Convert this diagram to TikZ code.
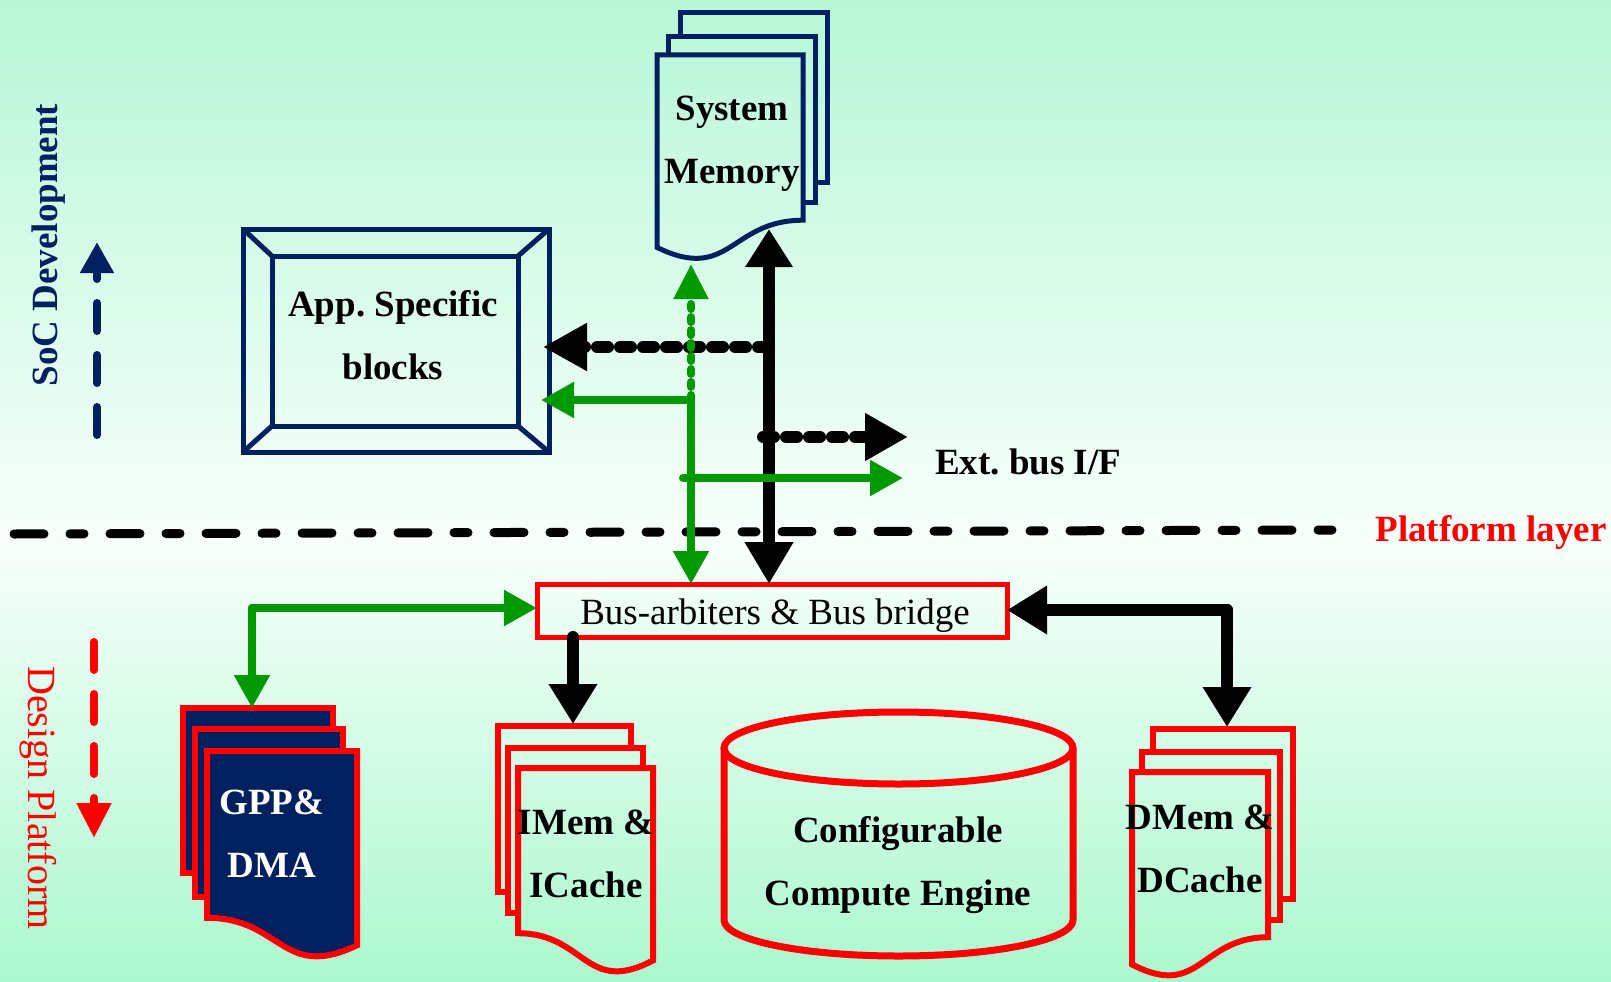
\documentclass[tikz,border=0pt]{standalone}
\usepackage{fontspec}
\setmainfont{Liberation Serif}
\usetikzlibrary{arrows.meta,calc}

\definecolor{navy}{HTML}{002060}
\definecolor{grn}{HTML}{009900}
\definecolor{mintT}{HTML}{B7F7D7}
\definecolor{mintB}{HTML}{ABF8CF}
\definecolor{paleW}{HTML}{F8FFFB}

% Document sheet with a wavy bottom edge: x0, y0, width, height, style
% (wave dips near the left, right end higher)
\newcommand\docR[5]{%
  \draw[#5] (#1,#2) -- ({#1+#3},#2) -- ({#1+#3},{#2+0.802*#4})
    .. controls ({#1+0.5*#3},{#2+0.802*#4}) and ({#1+0.5*#3},{#2+1.107*#4})
    .. (#1,{#2+0.934*#4}) -- cycle;}
% Mirrored version (wave dips near the right)
\newcommand\docL[5]{%
  \draw[#5] (#1,#2) -- ({#1+#3},#2) -- ({#1+#3},{#2+0.934*#4})
    .. controls ({#1+0.5*#3},{#2+1.107*#4}) and ({#1+0.5*#3},{#2+0.802*#4})
    .. (#1,{#2+0.802*#4}) -- cycle;}

\tikzset{
  lbl/.style={font=\fontsize{37}{63}\selectfont\bfseries\frenchspacing, align=center, inner sep=0pt},
  navysheet/.style={draw=navy, line width=5pt},
  redsheet/.style={draw=red, line width=6pt},
  blkbus/.style={black, line width=12pt, line cap=round},
  blkdash/.style={black, line width=12pt, line cap=round, dash pattern=on 11pt off 12pt},
  grnbus/.style={grn, line width=8pt, line cap=round},
  blktip/.style={-{Triangle[length=40pt,width=46pt]}},
  grntip/.style={-{Triangle[length=33pt,width=34pt]}},
}

\begin{document}
\begin{tikzpicture}[x=1pt,y=-1pt]
\useasboundingbox (0,0) rectangle (1611,982);

% background
\shade[top color=mintT, bottom color=paleW] (0,0) rectangle (1611,540);
\shade[top color=paleW, bottom color=mintB] (0,540) rectangle (1611,982);

% ---- System Memory stack
\draw[navysheet] (680,37) -- (680,13) -- (827,13) -- (827,182) -- (815,182);
\draw[navysheet] (668,55) -- (668,37) -- (815,37) -- (815,202) -- (803,202);
\docR{657}{55}{146}{206}{navysheet}

% ---- GPP & DMA stack
\filldraw[redsheet, fill=navy] (183,708) rectangle (333,873);
\filldraw[redsheet, fill=navy] (195,729) rectangle (343,897);
\docL{207}{751}{150}{208}{redsheet, fill=navy}

% ---- IMem & ICache stack
\draw[redsheet] (631,748) -- (631,726) -- (498,726) -- (498,892) -- (508,892);
\draw[redsheet] (643,768) -- (643,748) -- (508,748) -- (508,913) -- (518,913);
\docL{518}{768}{135}{206}{redsheet}

% ---- DMem & DCache stack
\draw[redsheet] (1153,752) -- (1153,729) -- (1293,729) -- (1293,899) -- (1280,899);
\draw[redsheet] (1142,772) -- (1142,752) -- (1280,752) -- (1280,920) -- (1268,920);
\docR{1132}{772}{136}{206}{redsheet}

% ---- compute engine cylinder
\draw[red, line width=7pt] (898.5,748) ellipse [x radius=174.5, y radius=36];
\draw[red, line width=7pt] (724,748) -- (724,920)
  arc[start angle=180, end angle=0, x radius=174.5, y radius=36] -- (1073,748);

% ---- application specific blocks (bevelled frame)
\node[draw=navy, line width=5pt, minimum width=306pt, minimum height=223pt,
      inner sep=0pt, outer sep=0pt] (app) at (396,340.5) {};
\draw[navy, line width=5pt]
  ($(app.north west)+(29,27)$) coordinate (ai1) rectangle ($(app.south east)+(-31,-26)$) coordinate (ai2);
\draw[navy, line width=5pt] (app.north west) -- (ai1);
\draw[navy, line width=5pt] (app.south east) -- (ai2);
\draw[navy, line width=5pt] (app.north east) -- (ai1 -| ai2);
\draw[navy, line width=5pt] (app.south west) -- (ai1 |- ai2);
\node[lbl] (apptxt) at (393,335) {App. Specific\\blocks};

% ---- bus
\node[draw=red, line width=5pt, minimum width=470pt, minimum height=53pt,
      inner sep=0pt, outer sep=0pt] (bus) at (772,610.5) {};
\node[font=\fontsize{37}{44}\selectfont, inner sep=0pt] (bustxt) at (775,616) {Bus-arbiters \& Bus bridge};

% ---- labels
\node[lbl] (smem) at (732,144) {System\\Memory};
\node[lbl, text=white] (gpp) at (272,834) {GPP\&\\DMA};
\node[lbl] (imem) at (586,854) {IMem \&\\ICache};
\node[lbl] (dmem) at (1200,849) {DMem \&\\DCache};
\node[lbl] (cce) at (898,865) {Configurable\\Compute Engine};
\node[lbl, anchor=west] (ext) at (935,462) {Ext. bus I/F};
\node[lbl, text=red] (plat) at (1491,532) {Platform layer};
\node[lbl, text=navy, rotate=90] (soc) at (49,245) {SoC Development};
\node[font=\fontsize{40}{48}\selectfont, text=red, rotate=-90, inner sep=0pt] (dp) at (38,798) {Design Platform};

% ---- connection points
\coordinate (smb) at (769,229);
\coordinate (smg) at (691,264);
\coordinate (gj) at (691,400);
\coordinate (jb1) at (769,347);
\coordinate (jb2) at (763,437);
\coordinate (extb) at (908,437);
\coordinate (ge) at (683,478);
\coordinate (extg) at (903,478);
\coordinate (gp) at (252,608);
\coordinate (gpt) at (252,708);
\coordinate (imt) at (573,724);
\coordinate (dj) at (1227,610);
\coordinate (dmt) at (1227,727);
\coordinate (pl1) at (14,534);
\coordinate (pl2) at (1332,530);
\coordinate (socb) at (97,435);
\coordinate (soct) at (97,242);
\coordinate (dpt) at (94,642);
\coordinate (dpb) at (94,838);

% ---- platform layer boundary
\draw[line width=9pt, line cap=round, dash pattern=on 30pt off 26pt on 14pt off 26pt] (pl1) -- (pl2);

% ---- direction arrows
\draw[navy, line width=8pt, line cap=round, dash pattern=on 28pt off 24pt,
      -{Triangle[length=31pt,width=32pt]}] (socb) -- (soct);
\draw[red, line width=8pt, line cap=round, dash pattern=on 28pt off 24pt,
      -{Triangle[length=35pt,width=33pt]}] (dpt) -- (dpb);

% ---- system bus (black)
\draw[blkbus, {Triangle[length=38pt,width=45pt]}-{Triangle[length=42pt,width=46pt]}] (smb) -- (smb |- bus.north);
\draw[blkdash, -{Triangle[length=44pt,width=45pt]}] (jb1) -- ($(jb1 -| app.east)+(-6,0)$);
\draw[blkdash, -{Triangle[length=43pt,width=45pt]}] (jb2) -- (extb);
\draw[blkbus, blktip] (bus.south -| imt) -- (imt);
\draw[blkbus, blktip] (dj) -- (dj -| bus.east);
\draw[blkbus, blktip] (dj) -- (dmt);

% ---- peripheral bus (green)
\draw[grnbus, dash pattern=on 5pt off 8pt, -{Triangle[length=35pt,width=33pt]}] (gj) -- (smg);
\draw[grnbus, grntip] (gj) -- ($(gj -| app.east)+(-8,0)$);
\draw[grnbus, grntip] (gj) -- (gj |- bus.north);
\draw[grnbus, grntip] (ge) -- (extg);
\draw[grnbus, grntip] (gp) -- (gp -| bus.west);
\draw[grnbus, grntip] (gp) -- (gpt);

\end{tikzpicture}
\end{document}
